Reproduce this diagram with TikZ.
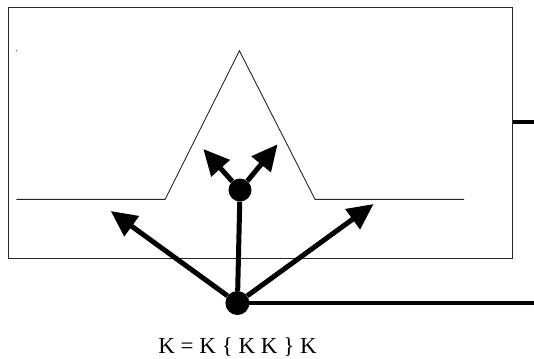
\documentclass[tikz,border=0pt]{standalone}
\usepackage{fontspec}
\setmainfont{Liberation Serif}
\usetikzlibrary{arrows.meta}
\begin{document}
\begin{tikzpicture}[x=1pt,y=-1pt,
  dotnode/.style={circle,fill=black,inner sep=0pt,minimum size=#1},
  bigarrow/.style={line width=5pt,-{Triangle[length=26pt,width=24pt]}},
  heavyline/.style={line width=4pt},
  profile/.style={line width=0.9pt,draw=black!85},
  frame/.style={draw=black!85,line width=1.2pt,fill=none,inner sep=0pt,
    minimum width=503.3pt,minimum height=250.4pt,anchor=north west},
  label/.style={inner sep=0pt,anchor=base,font=\fontsize{23}{27}\selectfont}]
\useasboundingbox (0,0) rectangle (534,358);
% frame
\node[frame] (box) at (8.2,7.3) {};
% speck
\fill[black!70] (16.3,50.7) circle (0.7pt);
% profile with peak
\coordinate (p1) at (16.3,199.3);
\coordinate (p2) at (165.2,199.3);
\coordinate (p3) at (239.4,50.7);
\coordinate (p4) at (315,199.3);
\coordinate (p5) at (464,199.3);
\draw[profile] (p1) -- (p2) -- (p3) -- (p4) -- (p5);
% right stub
\coordinate (stubend) at (534,121.7);
\draw[heavyline] (box.east |- stubend) -- (stubend);
% dots
\node[dotnode=24pt] (bot) at (237.4,303) {};
\node[dotnode=23pt] (top) at (240,190) {};
% bottom line
\coordinate (botend) at (534,303);
\draw[heavyline] (bot.center) -- (botend);
% vertical
\draw[line width=5pt] (bot) -- (top);
% arrow tips
\coordinate (tl) at (110.7,211);
\coordinate (tr) at (373.6,204);
\coordinate (ul) at (203.3,149);
\coordinate (ur) at (277.6,144.3);
\draw[bigarrow] (bot) -- (tl);
\draw[bigarrow] (bot) -- (tr);
\draw[bigarrow] (top) -- (ul);
\draw[bigarrow] (top) -- (ur);
% equation
\node[label] (eq) at (237.5,353) {K = K \{ K K \} K};
\end{tikzpicture}
\end{document}
